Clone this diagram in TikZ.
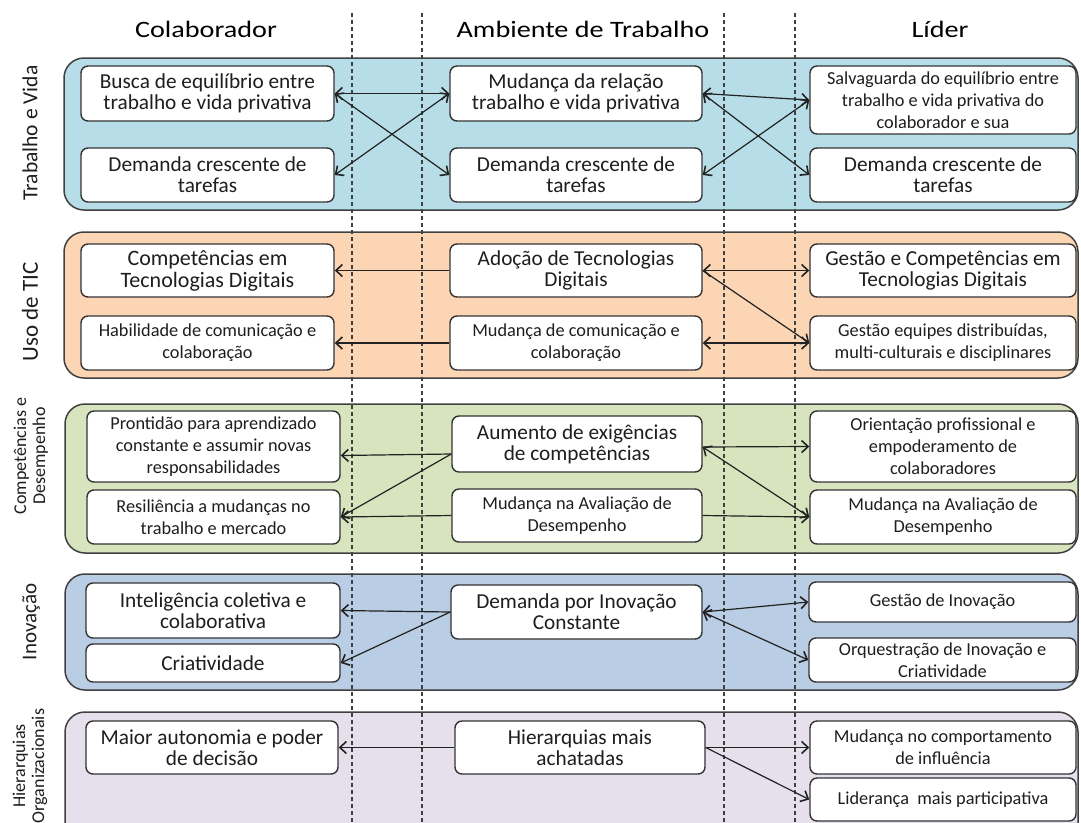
\documentclass[tikz,border=0pt]{standalone}
\usepackage{fontspec}
\setmainfont{Carlito}
\newfontfamily\headfont[FakeStretch=1.2]{Carlito}
\usetikzlibrary{arrows.meta}
\definecolor{bandA}{HTML}{B7DEE8}
\definecolor{bandB}{HTML}{FCD5B5}
\definecolor{bandC}{HTML}{D7E4BD}
\definecolor{bandD}{HTML}{B9CDE5}
\definecolor{bandE}{HTML}{E6E0EC}
\definecolor{bandline}{HTML}{404040}
\definecolor{boxline}{HTML}{333333}
\definecolor{txt}{HTML}{1E1E1E}
\definecolor{arr}{HTML}{222222}
\tikzset{
  bx/.style={draw=boxline, line width=1.4pt, fill=white, rounded corners=7pt, align=center, inner sep=2pt, text=txt},
  big/.style={font=\fontsize{21.3}{21}\selectfont},
  sml/.style={font=\fontsize{18.3}{22}\selectfont},
  band/.style={draw=bandline, line width=1.5pt, rounded corners=20pt},
  conn/.style={draw=arr, line width=1.2pt},
  tipA/.tip={Straight Barb[length=6.5pt,width=12pt,line width=1.6pt]},
  dbl/.style={conn, tipA-tipA},
  sgl/.style={conn, -tipA},
  divider/.style={draw=bandline, line width=1.1pt, dash pattern=on 4pt off 3pt},
  rowlab/.style={rotate=90, align=center, text=txt},
  head/.style={anchor=base, text=black, font=\headfont\fontsize{23.5}{26}\selectfont}
}
\begin{document}
\begin{tikzpicture}[x=1pt,y=-1pt]
\useasboundingbox (0,0) rectangle (1081,822);
\clip (0,0) rectangle (1081,822);
\fill[white] (0,0) rectangle (1081,822);

% bands
\path[band, fill=bandA] (64,58) rectangle (1078,210);
\path[band, fill=bandB] (64,232) rectangle (1078,378);
\path[band, fill=bandC] (65,404) rectangle (1078,553);
\path[band, fill=bandD] (65,574) rectangle (1078,690);
\path[band, fill=bandE] (65,712) rectangle (1078,845);

% dashed dividers
\coordinate (d1t) at (352,13); \coordinate (d1b) at (352,822);
\coordinate (d2t) at (422,13); \coordinate (d2b) at (422,822);
\coordinate (d3t) at (724,13); \coordinate (d3b) at (724,822);
\coordinate (d4t) at (795,13); \coordinate (d4b) at (795,822);
\draw[divider] (d1t) -- (d1b);
\draw[divider] (d2t) -- (d2b);
\draw[divider] (d3t) -- (d3b);
\draw[divider] (d4t) -- (d4b);

% headers
\node[head] (h1) at (206,37) {Colaborador};
\node[head] (h2) at (583,37) {Ambiente de Trabalho};
\node[head] (h3) at (940,37) {Líder};

% row labels
\node[rowlab, font=\fontsize{21.5}{22}\selectfont] (r1) at (30,133) {Trabalho e Vida};
\node[rowlab, font=\fontsize{23}{24}\selectfont] (r2) at (30,312) {Uso de TIC};
\node[rowlab, font=\fontsize{18}{19}\selectfont] (r3) at (31,456) {Competências e\\Desempenho};
\node[rowlab, font=\fontsize{21}{22}\selectfont] (r4) at (31,622) {Inovação};
\node[rowlab, font=\fontsize{18}{19}\selectfont] (r5) at (30,766) {Hierarquias\\Organizacionais};

% band 1
\node[bx, big, minimum width=253pt, minimum height=55pt] (c11) at (207.5,93.5) {Busca de equilíbrio entre\\trabalho e vida privativa};
\node[bx, big, minimum width=253pt, minimum height=54pt] (c12) at (207.5,175) {Demanda crescente de\\tarefas};
\node[bx, big, minimum width=252pt, minimum height=55pt] (m11) at (576,93.5) {Mudança da relação\\trabalho e vida privativa};
\node[bx, big, minimum width=252pt, minimum height=54pt] (m12) at (576,175) {Demanda crescente de\\tarefas};
\node[bx, sml, minimum width=266pt, minimum height=68pt] (l11) at (943,100) {Salvaguarda do equilíbrio entre\\trabalho e vida privativa do\\colaborador e sua};
\node[bx, big, minimum width=266pt, minimum height=54pt] (l12) at (943,175) {Demanda crescente de\\tarefas};

% band 2
\node[bx, font=\fontsize{22}{22}\selectfont, minimum width=253pt, minimum height=53pt] (c21) at (207.5,270.5) {Competências em\\Tecnologias Digitais};
\node[bx, sml, minimum width=253pt, minimum height=54pt] (c22) at (207.5,343) {Habilidade de comunicação e\\colaboração};
\node[bx, big, minimum width=252pt, minimum height=53pt] (m21) at (576,270.5) {Adoção de Tecnologias\\Digitais};
\node[bx, sml, minimum width=252pt, minimum height=54pt] (m22) at (576,343) {Mudança de comunicação e\\colaboração};
\node[bx, big, minimum width=266pt, minimum height=53pt] (l21) at (943,270.5) {Gestão e Competências em\\Tecnologias Digitais};
\node[bx, sml, minimum width=266pt, minimum height=54pt] (l22) at (943,343) {Gestão equipes distribuídas,\\multi-culturais e disciplinares};

% band 3
\node[bx, sml, minimum width=253pt, minimum height=71pt] (c31) at (213.5,446.5) {Prontidão para aprendizado\\constante e assumir novas\\responsabilidades};
\node[bx, sml, minimum width=253pt, minimum height=54pt] (c32) at (213.5,517) {Resiliência a mudanças no\\trabalho e mercado};
\node[bx, big, minimum width=250pt, minimum height=56pt] (m31) at (577,444) {Aumento de exigências\\de competências};
\node[bx, sml, minimum width=250pt, minimum height=53pt] (m32) at (577,515.5) {Mudança na Avaliação de\\Desempenho};
\node[bx, sml, minimum width=266pt, minimum height=71pt] (l31) at (943,446.5) {Orientação profissional e\\empoderamento de\\colaboradores};
\node[bx, sml, minimum width=266pt, minimum height=54pt] (l32) at (943,517) {Mudança na Avaliação de\\Desempenho};

% band 4
\node[bx, big, minimum width=254pt, minimum height=55pt] (c41) at (213,610.5) {Inteligência coletiva e\\colaborativa};
\node[bx, big, minimum width=254pt, minimum height=38pt] (c42) at (213,663) {Criatividade};
\node[bx, big, minimum width=251pt, minimum height=54pt] (m41) at (576.5,612) {Demanda por Inovação\\Constante};
\node[bx, sml, minimum width=267pt, minimum height=40pt] (l41) at (942.5,602) {Gestão de Inovação};
\node[bx, sml, minimum width=267pt, minimum height=44pt] (l42) at (942.5,660) {Orquestração de Inovação e\\Criatividade};

% band 5
\node[bx, big, minimum width=252pt, minimum height=53pt] (c51) at (212,747.5) {Maior autonomia e poder\\de decisão};
\node[bx, big, minimum width=250pt, minimum height=53pt] (m51) at (580,747.5) {Hierarquias mais\\achatadas};
\node[bx, sml, minimum width=266pt, minimum height=53pt] (l51) at (943,747.5) {Mudança no comportamento\\de influência};
\node[bx, sml, minimum width=266pt, minimum height=43pt] (l52) at (943,799.5) {Liderança\ \ mais participativa};

% connectors band 1
\draw[dbl] (c11.east) -- (m11.west);
\draw[dbl] (c11.east) -- (m12.west);
\draw[dbl] (c12.east) -- (m11.west);
\draw[dbl] (m11.east) -- (l11.west);
\draw[dbl] (m11.east) -- (l12.west);
\draw[dbl] (m12.east) -- (l11.west);

% band 2
\draw[sgl] (m21.west) -- (c21.east);
\draw[sgl] (m22.west) -- (c22.east);
\draw[dbl] (m21.east) -- (l21.west);
\draw[sgl] (m21.east) -- (l22.west);
\draw[dbl] (m22.east) -- (l22.west);

% band 3
\draw[sgl] ([yshift=-10pt]m31.west) -- ([yshift=-9pt]c31.east);
\draw[sgl] ([yshift=-10pt]m31.west) -- (c32.east);
\draw[sgl] (m32.west) -- (c32.east);
\draw[sgl] ([yshift=-3pt]m31.east) -- (l31.west);
\draw[dbl] ([yshift=-3pt]m31.east) -- (l32.west);
\draw[sgl] (m32.east) -- (l32.west);

% band 4
\draw[sgl] (m41.west) -- (c41.east);
\draw[sgl] (m41.west) -- (c42.east);
\draw[dbl] (m41.east) -- (l41.west);
\draw[dbl] (m41.east) -- (l42.west);

% band 5
\draw[sgl] (m51.west) -- (c51.east);
\draw[sgl] (m51.east) -- (l51.west);
\draw[sgl] (m51.east) -- (l52.west);
\end{tikzpicture}
\end{document}
